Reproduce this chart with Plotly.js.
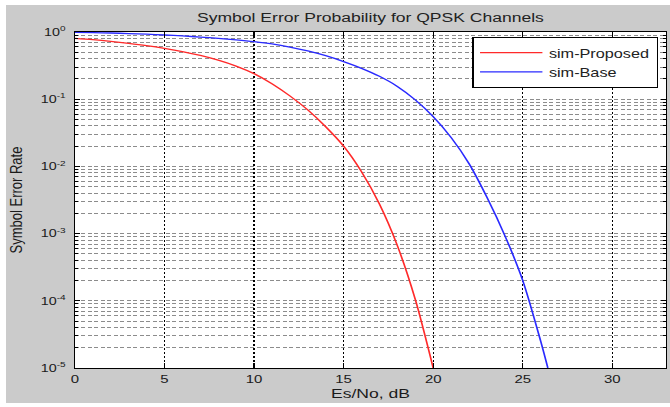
<!DOCTYPE html>
<html><head><meta charset="utf-8">
<script src="https://cdn.plot.ly/plotly-3.0.1.min.js"></script>
<style>
html,body{margin:0;padding:0;background:#ffffff;width:670px;height:407px;overflow:hidden;}
#wrap{position:absolute;left:6px;top:5px;width:664px;height:398px;overflow:hidden;background:#cbcbcb;}
#chart{width:511px;height:398px;transform:scaleX(1.2994);transform-origin:0 0;}
</style></head><body><div id="wrap"><div id="chart"></div></div>
<script>
// Es/No (dB) and symbol error rate
const snrProposed = [0,1,2,3,4,5,6,7,8,9,10,11,12,13,14,15,16,17,18,19,20];
const serProposed = [0.805,0.769,0.726,0.678,0.627,0.571,0.512,0.448,0.381,0.311,0.240,0.170,0.112,0.0692,0.0389,0.0200,0.00832,0.00275,6.61e-4,1.05e-4,1.0e-5];
const snrBase = [0,1,2,3,4,5,6,7,8,9,10,11,12,13,14,15,16,17,18,19,20,21,22,23,24,25,26,26.4];
const serBase = [0.989,0.979,0.966,0.948,0.927,0.902,0.873,0.841,0.805,0.764,0.718,0.664,0.598,0.524,0.444,0.363,0.288,0.219,0.155,0.0977,0.0550,0.0269,0.0110,0.00347,9.33e-4,2.0e-4,2.51e-5,1.0e-5];
const seriesNames = ['sim-Proposed','sim-Base'];
const xTickVals = [0,5,10,15,20,25,30];
const yExponents = [0,-1,-2,-3,-4,-5];
const chartTitle = 'Symbol Error Probability for QPSK Channels';
const xTitle = 'Es/No, dB';
const yTitle = 'Symbol Error Rate';

const yTickVals = yExponents.map(e => Math.pow(10, e));
const yTickText = yExponents.map(e => '10<sup>' + e + '</sup>');

const traces = [
  {x: snrProposed, y: serProposed, name: seriesNames[0], type: 'scatter', mode: 'lines',
   line: {color: '#ff2a2a', width: 1.3, shape: 'spline', smoothing: 0.8}},
  {x: snrBase, y: serBase, name: seriesNames[1], type: 'scatter', mode: 'lines',
   line: {color: '#2a2aff', width: 1.3, shape: 'spline', smoothing: 0.8}}
];

const layout = {
  width: 511, height: 398,
  margin: {l: 53, r: 3, t: 27, b: 35, pad: 0},
  paper_bgcolor: '#cbcbcb',
  plot_bgcolor: '#ffffff',
  font: {family: 'Liberation Sans, Arial, sans-serif', color: '#1a1a1a', size: 11},
  title: {text: chartTitle, font: {size: 13.5, color: '#222'}, x: 0.5, xref: 'paper',
          y: 1 - 12/398, yref: 'container', yanchor: 'middle'},
  showlegend: true,
  legend: {x: 0.9864, xanchor: 'right', y: 0.985, yanchor: 'top', bgcolor: '#ffffff',
           bordercolor: '#000000', borderwidth: 1, font: {size: 12.5, color: '#222'},
           tracegroupgap: 0, itemwidth: 48},
  xaxis: {
    range: [0, 33], tickvals: xTickVals, ticks: 'inside', ticklen: 5, tickcolor: '#000',
    showline: true, linecolor: '#000', linewidth: 1, mirror: 'ticks',
    showgrid: true, gridcolor: '#000', gridwidth: 1, griddash: '2px,2px',
    zeroline: false, tickfont: {size: 11.5},
    title: {text: xTitle, font: {size: 13.5}, standoff: 4}
  },
  yaxis: {
    type: 'log', range: [-5, 0], tickvals: yTickVals, ticktext: yTickText,
    ticks: 'inside', ticklen: 4, tickcolor: '#000',
    showline: true, linecolor: '#000', linewidth: 1, mirror: 'ticks',
    showgrid: true, gridcolor: '#8c8c8c', gridwidth: 1, griddash: '3px,2px',
    zeroline: false, tickfont: {size: 11}, ticklabelstandoff: 4,
    minor: {dtick: 'D1', ticks: 'inside', ticklen: 2.5, tickcolor: '#000',
            showgrid: true, gridcolor: '#8c8c8c', gridwidth: 1, griddash: '3px,2px'},
    title: {text: yTitle, font: {size: 13}, standoff: 10}
  }
};

Plotly.newPlot('chart', traces, layout, {displayModeBar: false, staticPlot: true});
</script>
</body></html>
